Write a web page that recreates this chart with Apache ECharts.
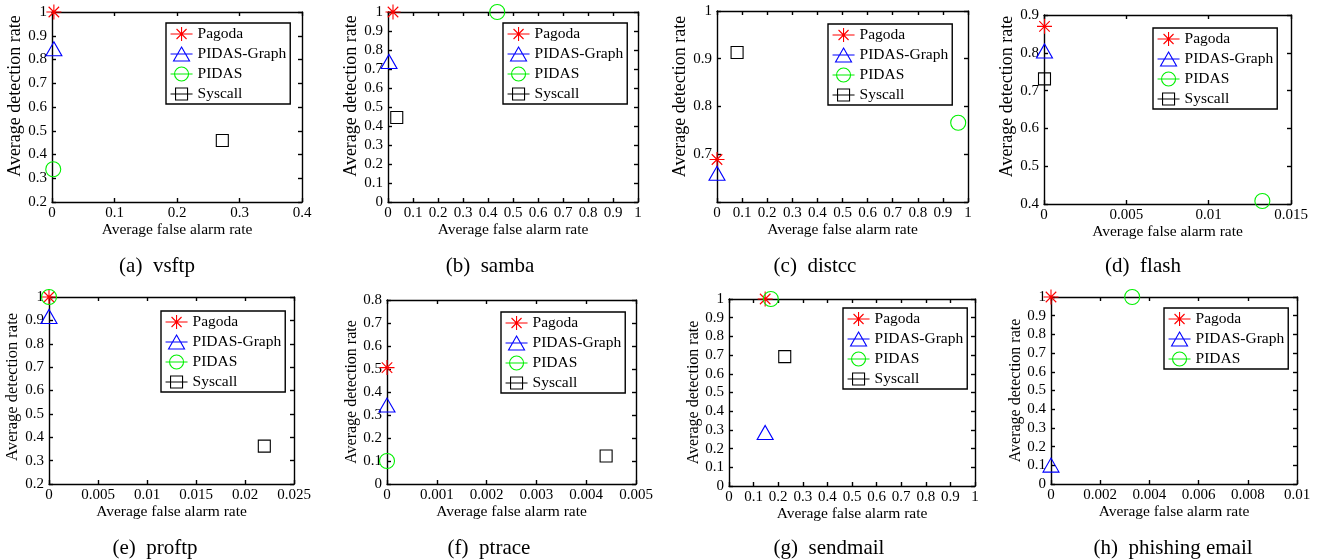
<!DOCTYPE html>
<html>
<head>
<meta charset="utf-8">
<script src="https://cdn.jsdelivr.net/npm/echarts@6/dist/echarts.min.js"></script>
<style>
html, body { margin: 0; padding: 0; background: #fff; }
#main { width: 1329px; height: 560px; }
</style>
</head>
<body>
<div id="main"></div>
<script>
// one entry per panel: (a) .. (h)
var captions = ['(a)  vsftp', '(b)  samba', '(c)  distcc', '(d)  flash',
    '(e)  proftp', '(f)  ptrace', '(g)  sendmail', '(h)  phishing email'];

// [false alarm rate, detection rate]
var pagodaPts = [[0.003, 1.0], [0.02, 1.0], [0.0, 0.689], [0.00003, 0.87],
    [0.0, 1.0], [0.0, 0.506], [0.147, 1.0], [0.0, 1.0]];
var graphPts = [[0.003, 0.845], [0.004, 0.74], [0.0, 0.66], [0.00003, 0.805],
    [0.0, 0.917], [0.0, 0.343], [0.147, 0.286], [0.0, 0.101]];
var pidasPts = [[0.002, 0.338], [0.437, 1.0], [0.961, 0.766], [0.01326, 0.408],
    [0.0, 1.0], [0.0, 0.1], [0.17, 1.0], [0.0033, 1.0]];
var syscallPts = [[0.2725, 0.459], [0.035, 0.445], [0.08, 0.913], [0.00003, 0.731],
    [0.02197, 0.362], [0.0044, 0.122], [0.2266, 0.692], null];

var xMax = [0.4, 1, 1, 0.015, 0.025, 0.005, 1, 0.01];
var xStep = [0.1, 0.1, 0.1, 0.005, 0.005, 0.001, 0.1, 0.002];
var yMin = [0.2, 0, 0.6, 0.4, 0.2, 0, 0, 0];
var yMax = [1, 1, 1, 0.9, 1, 0.8, 1, 1];
var yHidden = [null, null, 0.6, null, null, null, null, null];

// layout: plot box [left, top, width, height], legend [left, top], caption [x, y]
var boxes = [[52, 12, 250, 190], [388, 12, 250, 190], [717, 11, 251, 191], [1044, 15, 247, 189],
    [49, 297, 245, 187], [387, 300, 249, 184], [729, 299, 246, 187], [1051, 297, 246, 187]];
var legendPos = [[166, 23], [503, 23], [828, 24], [1153, 28],
    [161, 311], [501, 312], [843, 308], [1164, 308]];
var captionPos = [[157, 266], [490, 266], [815, 266], [1143, 266],
    [155, 548], [489, 548], [829, 548], [1173, 548]];
var yNameGap = [23, 20, 24, 25, 24, 24, 24, 23];
var yNameSize = [18, 18, 18, 18, 16.5, 16, 16, 16];
var yNameShift = [22, 22, 20, 26, 7, 0, 0, 0];

var FONT = 'Liberation Serif';
var methods = [
    { name: 'Pagoda', pts: pagodaPts, color: '#ff0000',
      symbol: 'path://M10,0L10,20M0,10L20,10M3,3L17,17M3,17L17,3', size: 15,
      icon: 'path://M0,7L22,7M11,0L11,14M6,2L16,12M6,12L16,2' },
    { name: 'PIDAS-Graph', pts: graphPts, color: '#0000ff',
      symbol: 'triangle', size: [16, 14],
      icon: 'path://M0,7L22,7M11,0L19,14L3,14Z' },
    { name: 'PIDAS', pts: pidasPts, color: '#00f000',
      symbol: 'circle', size: 15,
      icon: 'path://M0,7L22,7M18,7A7,7,0,1,1,4,7A7,7,0,1,1,18,7' },
    { name: 'Syscall', pts: syscallPts, color: '#000000',
      symbol: 'rect', size: 12,
      icon: 'path://M0,7L22,7M5,1L17,1L17,13L5,13Z' }
];

var grids = [], xAxes = [], yAxes = [], series = [], legends = [], graphics = [];
var lineStyle = { color: '#000', width: 1.4 };

captions.forEach(function (cap, i) {
    var b = boxes[i];
    grids.push({ left: b[0], top: b[1], width: b[2], height: b[3] });

    xAxes.push({
        gridIndex: i, type: 'value', position: 'bottom',
        min: 0, max: xMax[i], interval: xStep[i],
        name: 'Average false alarm rate', nameLocation: 'middle', nameGap: 20,
        nameTextStyle: { fontFamily: FONT, fontSize: 15.5, color: '#000' },
        axisLine: { show: true, onZero: false, lineStyle: lineStyle },
        axisTick: { show: true, inside: true, length: 4, lineStyle: lineStyle },
        axisLabel: { fontFamily: FONT, fontSize: 15, color: '#000', margin: 4,
            hideOverlap: false, showMinLabel: true, showMaxLabel: true },
        splitLine: { show: false }
    });
    xAxes.push({
        gridIndex: i, type: 'value', position: 'top',
        min: 0, max: xMax[i], interval: xStep[i],
        axisLine: { show: true, onZero: false, lineStyle: lineStyle },
        axisTick: { show: true, inside: true, length: 4, lineStyle: lineStyle },
        axisLabel: { show: false }, splitLine: { show: false }
    });

    var hid = yHidden[i];
    yAxes.push({
        gridIndex: i, type: 'value', position: 'left',
        min: yMin[i], max: yMax[i], interval: 0.1,
        name: 'Average detection rate', nameLocation: 'middle', nameGap: yNameGap[i],
        nameTextStyle: { fontFamily: FONT, fontSize: yNameSize[i], color: '#000',
            padding: [0, 0, 0, yNameShift[i]] },
        axisLine: { show: true, onZero: false, lineStyle: lineStyle },
        axisTick: { show: true, inside: true, length: 4, lineStyle: lineStyle },
        axisLabel: { fontFamily: FONT, fontSize: 15, color: '#000', margin: 5,
            hideOverlap: false, showMinLabel: true, showMaxLabel: true,
            formatter: function (v) {
                if (hid !== null && Math.abs(v - hid) < 1e-9) return '';
                return String(+v.toFixed(3));
            } },
        splitLine: { show: false }
    });
    yAxes.push({
        gridIndex: i, type: 'value', position: 'right',
        min: yMin[i], max: yMax[i], interval: 0.1,
        axisLine: { show: true, onZero: false, lineStyle: lineStyle },
        axisTick: { show: true, inside: true, length: 4, lineStyle: lineStyle },
        axisLabel: { show: false }, splitLine: { show: false }
    });

    var legendData = [];
    methods.forEach(function (m) {
        var p = m.pts[i];
        if (!p) return;
        series.push({
            name: m.name, type: 'scatter', xAxisIndex: i * 2, yAxisIndex: i * 2,
            data: [p], symbol: m.symbol, symbolSize: m.size, clip: false, silent: true,
            itemStyle: { color: 'transparent', borderColor: m.color, borderWidth: 1.1, opacity: 1 }
        });
        legendData.push({
            name: m.name, icon: m.icon,
            itemStyle: { color: 'transparent', borderColor: m.color, borderWidth: 1.1 }
        });
    });

    legends.push({
        orient: 'vertical', left: legendPos[i][0], top: legendPos[i][1],
        data: legendData, selectedMode: false,
        itemWidth: 22, itemHeight: 14, itemGap: 4,
        padding: [3, 4, 2, 4],
        borderColor: '#000', borderWidth: 1.4, backgroundColor: '#fff',
        textStyle: { fontFamily: FONT, fontSize: 15.5, color: '#000' }
    });

    graphics.push({
        type: 'text', x: captionPos[i][0], y: captionPos[i][1],
        style: { text: cap, fontFamily: FONT, fontSize: 21, fill: '#000',
            textAlign: 'center', textVerticalAlign: 'middle' }
    });
});

var chart = echarts.init(document.getElementById('main'), null, { renderer: 'canvas' });
var option = {
    backgroundColor: '#fff',
    animation: false,
    grid: grids,
    xAxis: xAxes,
    yAxis: yAxes,
    legend: legends,
    series: series,
    graphic: graphics
};
chart.setOption(option);
window.addEventListener('resize', chart.resize);
</script>
</body>
</html>
